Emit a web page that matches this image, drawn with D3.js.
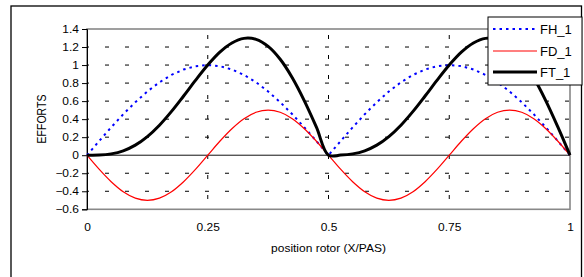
<!DOCTYPE html>
<html><head><meta charset="utf-8">
<script src="https://cdn.jsdelivr.net/npm/d3@7"></script>
<style>html,body{margin:0;padding:0;background:#fff;}svg{display:block;}</style>
</head><body>
<svg id="c" width="584" height="277"></svg>
<script>
const xValues = [0,0.025,0.05,0.075,0.1,0.125,0.15,0.175,0.2,0.225,0.25,0.275,0.3,0.325,0.35,0.375,0.4,0.425,0.45,0.475,0.5,
  0.525,0.55,0.575,0.6,0.625,0.65,0.675,0.7,0.725,0.75,0.775,0.8,0.825,0.85,0.875,0.9,0.925,0.95,0.975,1];
const FH_1 = [0,0.156,0.309,0.454,0.588,0.707,0.809,0.891,0.951,0.988,1,0.988,0.951,0.891,0.809,0.707,0.588,0.454,0.309,0.156,0,
  0.156,0.309,0.454,0.588,0.707,0.809,0.891,0.951,0.988,1,0.988,0.951,0.891,0.809,0.707,0.588,0.454,0.309,0.156,0];
const FD_1 = [0,-0.155,-0.294,-0.405,-0.476,-0.5,-0.476,-0.405,-0.294,-0.155,0,0.155,0.294,0.405,0.476,0.5,0.476,0.405,0.294,0.155,0,
  -0.155,-0.294,-0.405,-0.476,-0.5,-0.476,-0.405,-0.294,-0.155,0,0.155,0.294,0.405,0.476,0.5,0.476,0.405,0.294,0.155,0];
const FT_1 = [0,0.001,0.015,0.049,0.112,0.207,0.333,0.486,0.657,0.833,1,1.143,1.245,1.296,1.285,1.207,1.064,0.859,0.603,0.311,0,
  0.001,0.015,0.049,0.112,0.207,0.333,0.486,0.657,0.833,1,1.143,1.245,1.296,1.285,1.207,1.064,0.859,0.603,0.311,0];
const yTicks = [-0.6,-0.4,-0.2,0,0.2,0.4,0.6,0.8,1,1.2,1.4];
const xTicks = [0,0.25,0.5,0.75,1];
const seriesNames = ["FH_1","FD_1","FT_1"];

const svg = d3.select("#c");
const L = 87, R = 570, T = 29, B = 209.3;
const x = d3.scaleLinear().domain([0,1]).range([L,R]);
const y = d3.scaleLinear().domain([-0.6,1.4]).range([B,T]);

// outer chart border
svg.append("rect").attr("x",11).attr("y",6).attr("width",570.5).attr("height",280)
  .attr("fill","#fff").attr("stroke","#000").attr("stroke-width",1.3);

// plot area border (gray)
svg.append("rect").attr("x",L).attr("y",T).attr("width",R-L).attr("height",B-T)
  .attr("fill","none").attr("stroke","#888").attr("stroke-width",1.6);

// horizontal grid
const dash = "4,16";
svg.append("g").selectAll("line").data(yTicks.filter(d=>d!==0 && d!==1.4 && d!==-0.6)).join("line")
  .attr("x1",L).attr("x2",R).attr("y1",d=>y(d)).attr("y2",d=>y(d))
  .attr("stroke","#000").attr("stroke-width",1).attr("stroke-dasharray",dash).attr("stroke-dashoffset",2);
// vertical grid
svg.append("g").selectAll("line").data(xTicks.filter(d=>d>0 && d<1)).join("line")
  .attr("x1",d=>x(d)).attr("x2",d=>x(d)).attr("y1",T).attr("y2",B)
  .attr("stroke","#000").attr("stroke-width",1).attr("stroke-dasharray",dash).attr("stroke-dashoffset",-6);

// zero line
svg.append("line").attr("x1",L).attr("x2",R).attr("y1",y(0)).attr("y2",y(0))
  .attr("stroke","#111").attr("stroke-width",1);

// y axis
const yAxis = d3.axisLeft(y).tickValues(yTicks).tickSize(5).tickPadding(3)
  .tickFormat(d=>d3.format("")(+d.toFixed(1)));
const gy = svg.append("g").attr("transform",`translate(${L},0)`).call(yAxis);
gy.select(".domain").attr("stroke","#000");
gy.selectAll(".tick line").attr("stroke","#000");
gy.selectAll("text").attr("font-family","Arial, 'Liberation Sans', sans-serif").attr("font-size",10.5)
  .attr("fill","#000").attr("x",0).attr("dy","0.35em")
  .attr("transform",function(){ return `translate(-8,0) scale(1.14,1)`; });

// x tick labels (low position)
const gx = svg.append("g").attr("transform",`translate(0,${B})`)
  .call(d3.axisBottom(x).tickValues(xTicks).tickSize(0).tickPadding(0).tickFormat(d=>String(d)));
gx.select(".domain").remove();
gx.selectAll("text").attr("font-family","Arial, 'Liberation Sans', sans-serif").attr("font-size",10.5)
  .attr("fill","#000").attr("y",0).attr("dy",0)
  .attr("transform","translate(0,22) scale(1.14,1)");

// axis titles
svg.append("text").attr("transform","translate(328.5,252) scale(1.14,1)").attr("text-anchor","middle")
  .attr("font-family","Arial, 'Liberation Sans', sans-serif").attr("font-size",10.5).text("position rotor (X/PAS)");
svg.append("text").attr("transform","translate(46,119) scale(1.14,1) rotate(-90)").attr("text-anchor","middle")
  .attr("font-family","Arial, 'Liberation Sans', sans-serif").attr("font-size",10.5).text("EFFORTS");

// series
const pts = vals => xValues.map((v,i)=>[v,vals[i]]);
const lineLin = d3.line().x(d=>x(d[0])).y(d=>y(d[1]));
const lineSm = d3.line().x(d=>x(d[0])).y(d=>y(d[1])).curve(d3.curveCatmullRom.alpha(0.5));
const styles = [
  {color:"#0000ff", width:2, dasharray:"2.5,4", gen:lineLin, data:FH_1},
  {color:"#ff0000", width:1.2, dasharray:null, gen:lineSm, data:FD_1},
  {color:"#000000", width:3, dasharray:null, gen:lineSm, data:FT_1}
];
styles.forEach(s=>{
  svg.append("path").attr("d",s.gen(pts(s.data))).attr("fill","none")
    .attr("stroke",s.color).attr("stroke-width",s.width)
    .attr("stroke-dasharray",s.dasharray).attr("stroke-linejoin","round");
});

// legend
const lg = svg.append("g");
lg.append("rect").attr("x",488).attr("y",17).attr("width",94).attr("height",68)
  .attr("fill","#fff").attr("stroke","#000").attr("stroke-width",1);
const ly = [29,51,72];
seriesNames.forEach((n,i)=>{
  lg.append("line").attr("x1",493).attr("x2",537).attr("y1",ly[i]).attr("y2",ly[i])
    .attr("stroke",styles[i].color).attr("stroke-width",styles[i].width).attr("stroke-dasharray",styles[i].dasharray);
  lg.append("text").attr("x",540).attr("y",ly[i]).attr("dy","0.36em")
    .attr("font-family","Arial, 'Liberation Sans', sans-serif").attr("font-size",13).text(n);
});
</script>
</body></html>
